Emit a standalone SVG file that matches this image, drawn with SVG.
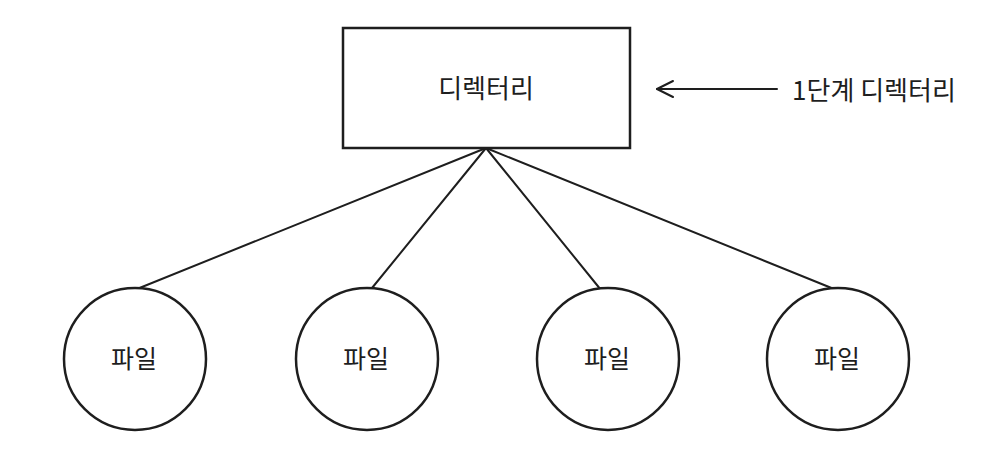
<svg xmlns="http://www.w3.org/2000/svg" width="1000" height="455" viewBox="0 0 1000 455">
<defs>
<style>
.shape{fill:#fff;stroke:#1e1e1e;stroke-width:2.5}
.edge{fill:none;stroke:#1e1e1e;stroke-width:2;stroke-linecap:round}
.t{font-family:"Noto Sans CJK KR","Noto Sans",sans-serif;font-size:26px;fill:#1e1e1e;text-anchor:middle;dominant-baseline:central}
.f{font-size:25px}
</style>
<marker id="arr" viewBox="0 0 20 20" refX="2" refY="10" markerWidth="20" markerHeight="20" markerUnits="userSpaceOnUse" orient="auto">
<path d="M18 2 L2 10 L18 18" fill="none" stroke="#1e1e1e" stroke-width="2" stroke-linecap="round" stroke-linejoin="round"/>
</marker>
</defs>
<rect width="1000" height="455" fill="#fff"/>
<g id="connectors">
<line class="edge" x1="486" y1="148" x2="137" y2="289"/>
<line class="edge" x1="486" y1="148" x2="372" y2="288"/>
<line class="edge" x1="486" y1="148" x2="601" y2="290"/>
<line class="edge" x1="486" y1="148" x2="834" y2="289"/>
<line class="edge" x1="657" y1="89" x2="777" y2="89" marker-start="url(#arr)"/>
</g>
<g id="dir">
<rect class="shape" x="343" y="28" width="287" height="120"/>
<text class="t" x="486" y="86">디렉터리</text>
</g>
<g id="label">
<text class="t" x="874" y="88">1단계 디렉터리</text>
</g>
<g id="file1">
<circle class="shape" cx="135" cy="359" r="71"/>
<text class="t f" x="134" y="357">파일</text>
</g>
<g id="file2">
<circle class="shape" cx="367" cy="359" r="71"/>
<text class="t f" x="366" y="357">파일</text>
</g>
<g id="file3">
<circle class="shape" cx="608" cy="359" r="71"/>
<text class="t f" x="607" y="357">파일</text>
</g>
<g id="file4">
<circle class="shape" cx="838" cy="359" r="71"/>
<text class="t f" x="837" y="357">파일</text>
</g>
</svg>
